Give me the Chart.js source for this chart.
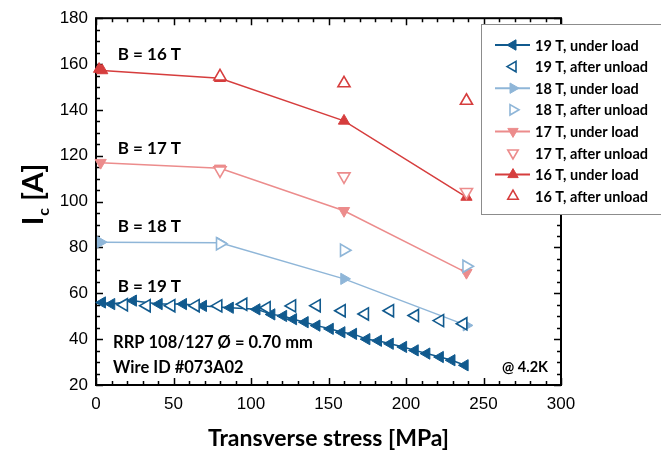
<!DOCTYPE html>
<html lang="en">
<head>
    <meta charset="UTF-8">
    <title>Ic vs transverse stress</title>
    <style>
        body { margin: 0; padding: 0; background: #fff; }
        #wrap { width: 661px; height: 456px; }
    </style>
    <script src="https://cdn.jsdelivr.net/npm/chart.js"></script>
</head>
<body>
    <div id="wrap"><canvas id="icChart" width="661" height="456"></canvas></div>

    <script>
        // Axis ticks
        const xTicks = [0, 50, 100, 150, 200, 250, 300];
        const yTicks = [20, 40, 60, 80, 100, 120, 140, 160, 180];

        // 19 T
        const s19Load = [4, 10, 24, 40.6, 56.3, 69.2, 86.5, 103.7, 113.3, 120.9, 127.3, 134.8, 142.4, 151, 158.5, 166, 174.6, 182.1, 189.7, 198.3, 205.8, 213.3, 222, 229.5, 238];
        const ic19Load = [56.0, 55.3, 56.8, 55.3, 55.3, 54.5, 53.7, 53.0, 50.8, 50.1, 48.7, 47.4, 45.9, 44.5, 43.0, 42.3, 40.0, 39.3, 38.0, 36.6, 35.1, 33.7, 32.2, 30.8, 28.6];
        const s19Unload = [18, 32.7, 48.6, 64.3, 78.9, 95, 110.1, 126.5, 142.4, 158.5, 173.5, 189.7, 205.8, 222, 237];
        const ic19Unload = [55.0, 54.6, 54.6, 54.6, 54.5, 55.2, 53.7, 54.5, 54.6, 52.4, 51.0, 52.4, 50.3, 48.1, 46.7];

        // 18 T
        const s18Load = [3, 80, 160, 239];
        const ic18Load = [82.3, 82.0, 66.3, 46.0];
        const s18Unload = [80, 160, 239];
        const ic18Unload = [81.6, 78.8, 71.8];

        // 17 T
        const s17Load = [3, 80, 160, 239];
        const ic17Load = [117.0, 114.5, 96.0, 69.0];
        const s17Unload = [80, 160, 239];
        const ic17Unload = [113.6, 111.0, 104.2];

        // 16 T
        const s16Load = [2, 4, 80, 160, 239];
        const ic16Load = [157.8, 157.2, 153.8, 135.2, 102.0];
        const s16Unload = [80, 160, 239];
        const ic16Unload = [154.6, 151.6, 144.0];

        const c19 = '#115a8e';
        const c18 = '#8fb6d8';
        const c17 = '#ec8c8c';
        const c16 = '#d63d3d';

        function pts(xs, ys) {
            return xs.map((x, i) => ({ x: x, y: ys[i] }));
        }

        function loadSet(label, xs, ys, color, rot, order) {
            return {
                label: label, data: pts(xs, ys), showLine: true,
                borderColor: color, borderWidth: 1.5,
                pointStyle: 'triangle', pointRotation: rot, pointRadius: 6.5,
                pointBackgroundColor: color, pointBorderColor: color, pointBorderWidth: 1,
                clip: false, order: order
            };
        }

        function unloadSet(label, xs, ys, color, rot, order) {
            return {
                label: label, data: pts(xs, ys), showLine: false,
                borderColor: color,
                pointStyle: 'triangle', pointRotation: rot, pointRadius: 7,
                pointBackgroundColor: '#fff', pointBorderColor: color, pointBorderWidth: 1.6,
                clip: false, order: order
            };
        }

        // unload markers sit on top of the under-load lines
        const datasets = [
            loadSet('19 T, under load', s19Load, ic19Load, c19, -90, 8),
            unloadSet('19 T, after unload', s19Unload, ic19Unload, c19, -90, 4),
            loadSet('18 T, under load', s18Load, ic18Load, c18, 90, 7),
            unloadSet('18 T, after unload', s18Unload, ic18Unload, c18, 90, 3),
            loadSet('17 T, under load', s17Load, ic17Load, c17, 180, 6),
            unloadSet('17 T, after unload', s17Unload, ic17Unload, c17, 180, 2),
            loadSet('16 T, under load', s16Load, ic16Load, c16, 0, 5),
            unloadSet('16 T, after unload', s16Unload, ic16Unload, c16, 0, 1)
        ];

        function tri(ctx, x, y, r, rotDeg, fill, color, lw) {
            const a = rotDeg * Math.PI / 180;
            ctx.beginPath();
            for (let k = 0; k < 3; k++) {
                const t = a + k * 2 * Math.PI / 3;
                const px = x + Math.sin(t) * r;
                const py = y - Math.cos(t) * r;
                if (k === 0) ctx.moveTo(px, py); else ctx.lineTo(px, py);
            }
            ctx.closePath();
            if (fill) { ctx.fillStyle = color; ctx.fill(); }
            ctx.strokeStyle = color;
            ctx.lineWidth = lw;
            ctx.stroke();
        }

        // frame with inward ticks on all four sides, texts, legend
        const framePlugin = {
            id: 'frame',
            beforeDatasetsDraw(chart) {
                const ctx = chart.ctx;
                const a = chart.chartArea;
                const xs = chart.scales.x, ys = chart.scales.y;
                ctx.save();
                ctx.strokeStyle = '#000';
                ctx.lineWidth = 2;
                ctx.strokeRect(a.left, a.top, a.right - a.left, a.bottom - a.top);
                ctx.lineWidth = 1.5;
                ctx.beginPath();
                for (let v = 0; v <= 300; v += 10) {
                    const p = Math.round(xs.getPixelForValue(v)) + 0.5;
                    const len = v % 50 === 0 ? 7 : 4;
                    ctx.moveTo(p, a.bottom); ctx.lineTo(p, a.bottom - len);
                    ctx.moveTo(p, a.top); ctx.lineTo(p, a.top + len);
                }
                for (let v = 20; v <= 180; v += 5) {
                    const p = Math.round(ys.getPixelForValue(v)) + 0.5;
                    const len = v % 20 === 0 ? 7 : 4;
                    ctx.moveTo(a.left, p); ctx.lineTo(a.left + len, p);
                    ctx.moveTo(a.right, p); ctx.lineTo(a.right - len, p);
                }
                ctx.stroke();
                ctx.restore();
            },
            afterDraw(chart) {
                const ctx = chart.ctx;
                const xs = chart.scales.x, ys = chart.scales.y;
                ctx.save();
                ctx.fillStyle = '#000';
                ctx.textBaseline = 'middle';
                ctx.font = 'bold 17px Lato';
                ctx.textAlign = 'left';
                ctx.fillText('B = 16 T', xs.getPixelForValue(14), ys.getPixelForValue(164));
                ctx.fillText('B = 17 T', xs.getPixelForValue(14), ys.getPixelForValue(123));
                ctx.fillText('B = 18 T', xs.getPixelForValue(14), ys.getPixelForValue(89));
                ctx.fillText('B = 19 T', xs.getPixelForValue(14), ys.getPixelForValue(63));
                ctx.font = 'bold 16.5px Lato';
                ctx.fillText('RRP 108/127 \u00d8 = 0.70 mm', xs.getPixelForValue(11), ys.getPixelForValue(38.5));
                ctx.fillText('Wire ID #073A02', xs.getPixelForValue(11), ys.getPixelForValue(27.5));
                ctx.font = 'bold 14.5px Lato';
                ctx.fillText('@ 4.2K', xs.getPixelForValue(262), ys.getPixelForValue(27.5));

                // y axis title with subscript
                ctx.translate(33, 195);
                ctx.rotate(-Math.PI / 2);
                ctx.textAlign = 'left';
                ctx.textBaseline = 'alphabetic';
                ctx.font = 'bold 29px Lato';
                const w1 = ctx.measureText('I').width;
                ctx.font = 'bold 16px Lato';
                const w2 = ctx.measureText('c').width;
                ctx.font = 'bold 29px Lato';
                const w3 = ctx.measureText(' [A]').width;
                const x0 = -(w1 + w2 + w3) / 2;
                ctx.fillText('I', x0, 10);
                ctx.font = 'bold 16px Lato';
                ctx.fillText('c', x0 + w1 + 1, 16);
                ctx.font = 'bold 29px Lato';
                ctx.fillText(' [A]', x0 + w1 + w2 + 1, 10);
                ctx.restore();

                // legend box
                ctx.save();
                ctx.fillStyle = '#fff';
                ctx.fillRect(481, 24, 190, 190);
                ctx.strokeStyle = '#8c8c8c';
                ctx.lineWidth = 1;
                ctx.strokeRect(481.5, 24.5, 190, 190);
                const rots = [-90, -90, 90, 90, 180, 180, 0, 0];
                const cols = [c19, c19, c18, c18, c17, c17, c16, c16];
                ctx.font = 'bold 14.5px Lato';
                ctx.textBaseline = 'middle';
                ctx.textAlign = 'left';
                datasets.forEach((d, i) => {
                    const y = 45 + i * 21.6;
                    if (d.showLine) {
                        ctx.strokeStyle = cols[i];
                        ctx.lineWidth = 2;
                        ctx.beginPath();
                        ctx.moveTo(495, y); ctx.lineTo(530, y);
                        ctx.stroke();
                        tri(ctx, 513, y, 6, rots[i], true, cols[i], 1);
                    } else {
                        tri(ctx, 513, y, 6, rots[i], false, cols[i], 1.6);
                    }
                    ctx.fillStyle = '#000';
                    ctx.fillText(d.label, 535, y + 1);
                });
                ctx.restore();
            }
        };

        new Chart(document.getElementById('icChart'), {
            type: 'scatter',
            data: { datasets: datasets },
            options: {
                responsive: false,
                animation: false,
                events: [],
                layout: { padding: { left: 0, right: 100, top: 15, bottom: 0 } },
                plugins: { legend: { display: false }, tooltip: { enabled: false } },
                scales: {
                    x: {
                        type: 'linear', min: 0, max: 300,
                        afterBuildTicks: s => { s.ticks = xTicks.map(v => ({ value: v })); },
                        afterFit: s => { s.height = 71; },
                        grid: { display: false, drawTicks: false },
                        border: { display: false },
                        ticks: { color: '#000', padding: 9, maxRotation: 0, font: { family: 'Liberation Sans', size: 17 } },
                        title: { display: true, text: 'Transverse stress [MPa]', color: '#000', padding: { top: 7 }, font: { family: 'Lato', weight: 'bold', size: 23 } }
                    },
                    y: {
                        type: 'linear', min: 20, max: 180,
                        afterBuildTicks: s => { s.ticks = yTicks.map(v => ({ value: v })); },
                        afterFit: s => { s.width = 96; },
                        grid: { display: false, drawTicks: false },
                        border: { display: false },
                        ticks: { color: '#000', padding: 8, font: { family: 'Liberation Sans', size: 17 } }
                    }
                }
            },
            plugins: [framePlugin]
        });
    </script>
</body>
</html>
